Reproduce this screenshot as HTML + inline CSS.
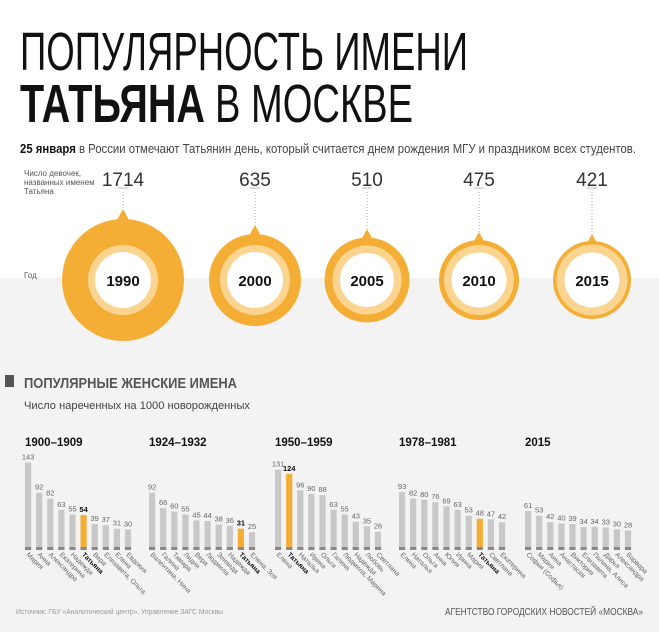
<!DOCTYPE html>
<html><head><meta charset="utf-8"><style>
html,body{margin:0;padding:0;background:#fff}
svg{display:block;font-family:"Liberation Sans",sans-serif}
</style></head><body>
<svg width="659" height="632" viewBox="0 0 659 632" xmlns="http://www.w3.org/2000/svg">
<rect x="0" y="0" width="659" height="278" fill="#fff"/>
<rect x="0" y="278" width="659" height="354" fill="#f3f3f3"/>
<text x="20" y="70" font-size="54" fill="#111" textLength="448" lengthAdjust="spacingAndGlyphs">ПОПУЛЯРНОСТЬ ИМЕНИ</text>
<text x="20" y="122" font-size="54" font-weight="bold" fill="#111" textLength="185" lengthAdjust="spacingAndGlyphs">ТАТЬЯНА</text>
<text x="215" y="122" font-size="54" fill="#111" textLength="198" lengthAdjust="spacingAndGlyphs">В МОСКВЕ</text>
<text x="20" y="153" font-size="12.5" fill="#444" textLength="616" lengthAdjust="spacingAndGlyphs"><tspan font-weight="bold" fill="#111">25 января</tspan> в России отмечают Татьянин день, который считается днем рождения МГУ и праздником всех студентов.</text>
<g font-size="8" fill="#555">
<text x="24" y="176">Число девочек,</text><text x="24" y="185">названных именем</text><text x="24" y="194">Татьяна</text>
<text x="24" y="278">Год</text>
</g>
<g font-weight="bold" font-size="15" fill="#111" text-anchor="middle">
<text x="123" y="186" font-size="19" font-weight="normal" fill="#333">1714</text>
<line x1="118" y1="188" x2="128" y2="188" stroke="#bbb"/>
<line x1="123" y1="192" x2="123" y2="212" stroke="#aaa" stroke-dasharray="1,2"/>
<path d="M117 220 L123 209 L129 220Z" fill="#f5ae35"/>
<circle cx="123" cy="280" r="61" fill="#f5ae35"/><circle cx="123" cy="280" r="35" fill="#fbd590"/><circle cx="123" cy="280" r="28" fill="#fff"/>
<text x="123" y="286">1990</text>
<text x="255" y="186" font-size="19" font-weight="normal" fill="#333">635</text>
<line x1="250" y1="188" x2="260" y2="188" stroke="#bbb"/>
<line x1="255" y1="192" x2="255" y2="226" stroke="#aaa" stroke-dasharray="1,2"/>
<path d="M249 236 L255 225 L261 236Z" fill="#f5ae35"/>
<circle cx="255" cy="280" r="46" fill="#f5ae35"/><circle cx="255" cy="280" r="35" fill="#fbd590"/><circle cx="255" cy="280" r="28" fill="#fff"/>
<text x="255" y="286">2000</text>
<text x="367" y="186" font-size="19" font-weight="normal" fill="#333">510</text>
<line x1="362" y1="188" x2="372" y2="188" stroke="#bbb"/>
<line x1="367" y1="192" x2="367" y2="230" stroke="#aaa" stroke-dasharray="1,2"/>
<path d="M361 240 L367 229 L373 240Z" fill="#f5ae35"/>
<circle cx="367" cy="280" r="42.5" fill="#f5ae35"/><circle cx="367" cy="280" r="34.5" fill="#fbd590"/><circle cx="367" cy="280" r="27" fill="#fff"/>
<text x="367" y="286">2005</text>
<text x="479" y="186" font-size="19" font-weight="normal" fill="#333">475</text>
<line x1="474" y1="188" x2="484" y2="188" stroke="#bbb"/>
<line x1="479" y1="192" x2="479" y2="232" stroke="#aaa" stroke-dasharray="1,2"/>
<path d="M473 243 L479 232 L485 243Z" fill="#f5ae35"/>
<circle cx="479" cy="280" r="40" fill="#f5ae35"/><circle cx="479" cy="280" r="35" fill="#fbd590"/><circle cx="479" cy="280" r="27.5" fill="#fff"/>
<text x="479" y="286">2010</text>
<text x="592" y="186" font-size="19" font-weight="normal" fill="#333">421</text>
<line x1="587" y1="188" x2="597" y2="188" stroke="#bbb"/>
<line x1="592" y1="192" x2="592" y2="234" stroke="#aaa" stroke-dasharray="1,2"/>
<path d="M586 245 L592 234 L598 245Z" fill="#f5ae35"/>
<circle cx="592" cy="280" r="39" fill="#f5ae35"/><circle cx="592" cy="280" r="35.5" fill="#fbd590"/><circle cx="592" cy="280" r="27.5" fill="#fff"/>
<text x="592" y="286">2015</text>
</g>
<rect x="5" y="375" width="9" height="12" fill="#555"/>
<text x="24" y="388" font-size="14.5" font-weight="bold" fill="#555" textLength="213" lengthAdjust="spacingAndGlyphs">ПОПУЛЯРНЫЕ ЖЕНСКИЕ ИМЕНА</text>
<text x="24" y="409" font-size="11" fill="#444" textLength="226" lengthAdjust="spacingAndGlyphs">Число нареченных на 1000 новорожденных</text>

<g font-size="11.5" font-weight="bold" fill="#111">
<text x="25" y="446">1900–1909</text><text x="149" y="446">1924–1932</text><text x="275" y="446">1950–1959</text><text x="399" y="446">1978–1981</text><text x="525" y="446">2015</text>
</g>

<!-- bars -->
<g fill="#c8c8c8">
<rect x="25" y="462.6" width="6.2" height="84.4"/><rect x="36.1" y="492.7" width="6.2" height="54.3"/><rect x="47.2" y="498.6" width="6.2" height="48.4"/><rect x="58.3" y="509.8" width="6.2" height="37.2"/><rect x="69.4" y="514.5" width="6.2" height="32.5"/><rect x="80.5" y="515.1" width="6.2" height="31.9" fill="#f5ae35"/><rect x="91.6" y="524" width="6.2" height="23"/><rect x="102.7" y="525.2" width="6.2" height="21.8"/><rect x="113.8" y="528.7" width="6.2" height="18.3"/><rect x="124.9" y="529.3" width="6.2" height="17.7"/>
<rect x="149" y="492.7" width="6.2" height="54.3"/><rect x="160.1" y="508.1" width="6.2" height="38.9"/><rect x="171.2" y="511.6" width="6.2" height="35.4"/><rect x="182.3" y="514.5" width="6.2" height="32.5"/><rect x="193.4" y="520.4" width="6.2" height="26.6"/><rect x="204.5" y="521" width="6.2" height="26"/><rect x="215.6" y="524.6" width="6.2" height="22.4"/><rect x="226.7" y="525.8" width="6.2" height="21.2"/><rect x="237.8" y="528.7" width="6.2" height="18.3" fill="#f5ae35"/><rect x="248.9" y="532.2" width="6.2" height="14.8"/>
<rect x="275" y="469.7" width="6.2" height="77.3"/><rect x="286.1" y="473.8" width="6.2" height="73.2" fill="#f5ae35"/><rect x="297.2" y="490.4" width="6.2" height="56.6"/><rect x="308.3" y="493.9" width="6.2" height="53.1"/><rect x="319.4" y="495.1" width="6.2" height="51.9"/><rect x="330.5" y="509.8" width="6.2" height="37.2"/><rect x="341.6" y="514.5" width="6.2" height="32.5"/><rect x="352.7" y="521.6" width="6.2" height="25.4"/><rect x="363.8" y="526.3" width="6.2" height="20.7"/><rect x="374.9" y="531.7" width="6.2" height="15.3"/>
<rect x="399" y="492.1" width="6.2" height="54.9"/><rect x="410.1" y="498.6" width="6.2" height="48.4"/><rect x="421.2" y="499.8" width="6.2" height="47.2"/><rect x="432.3" y="502.2" width="6.2" height="44.8"/><rect x="443.4" y="506.3" width="6.2" height="40.7"/><rect x="454.5" y="509.8" width="6.2" height="37.2"/><rect x="465.6" y="515.7" width="6.2" height="31.3"/><rect x="476.7" y="518.7" width="6.2" height="28.3" fill="#f5ae35"/><rect x="487.8" y="519.3" width="6.2" height="27.7"/><rect x="498.9" y="522.2" width="6.2" height="24.8"/>
<rect x="525" y="511" width="6.2" height="36"/><rect x="536.1" y="515.7" width="6.2" height="31.3"/><rect x="547.2" y="522.2" width="6.2" height="24.8"/><rect x="558.3" y="523.4" width="6.2" height="23.6"/><rect x="569.4" y="524" width="6.2" height="23"/><rect x="580.5" y="526.9" width="6.2" height="20.1"/><rect x="591.6" y="526.9" width="6.2" height="20.1"/><rect x="602.7" y="527.5" width="6.2" height="19.5"/><rect x="613.8" y="529.3" width="6.2" height="17.7"/><rect x="624.9" y="530.5" width="6.2" height="16.5"/>
</g>
<!-- baseline bands -->
<g stroke="#888" stroke-width="3" stroke-dasharray="6.2,4.9">
<line x1="25" y1="548.5" x2="131.1" y2="548.5"/><line x1="149" y1="548.5" x2="255.1" y2="548.5"/><line x1="275" y1="548.5" x2="381.1" y2="548.5"/><line x1="399" y1="548.5" x2="505.1" y2="548.5"/><line x1="525" y1="548.5" x2="631.1" y2="548.5"/>
</g>
<!-- values -->
<g font-size="7.5" fill="#666" text-anchor="middle">
<text x="28.1" y="459.6">143</text><text x="39.2" y="489.7">92</text><text x="50.3" y="495.6">82</text><text x="61.4" y="506.8">63</text><text x="72.5" y="511.5">55</text><text x="83.6" y="512.1" font-weight="bold" fill="#111">54</text><text x="94.7" y="521">39</text><text x="105.8" y="522.2">37</text><text x="116.9" y="525.7">31</text><text x="128" y="526.3">30</text>
<text x="152.1" y="489.7">92</text><text x="163.2" y="505.1">66</text><text x="174.3" y="508.6">60</text><text x="185.4" y="511.5">55</text><text x="196.5" y="517.4">45</text><text x="207.6" y="518">44</text><text x="218.7" y="521.6">38</text><text x="229.8" y="522.8">36</text><text x="240.9" y="525.7" font-weight="bold" fill="#111">31</text><text x="252" y="529.2">25</text>
<text x="278.1" y="466.7">131</text><text x="289.2" y="470.8" font-weight="bold" fill="#111">124</text><text x="300.3" y="487.4">96</text><text x="311.4" y="490.9">90</text><text x="322.5" y="492.1">88</text><text x="333.6" y="506.8">63</text><text x="344.7" y="511.5">55</text><text x="355.8" y="518.6">43</text><text x="366.9" y="523.3">35</text><text x="378" y="528.7">26</text>
<text x="402.1" y="489.1">93</text><text x="413.2" y="495.6">82</text><text x="424.3" y="496.8">80</text><text x="435.4" y="499.2">76</text><text x="446.5" y="503.3">69</text><text x="457.6" y="506.8">63</text><text x="468.7" y="512.7">53</text><text x="479.8" y="515.7">48</text><text x="490.9" y="516.3">47</text><text x="502" y="519.2">42</text>
<text x="528.1" y="508">61</text><text x="539.2" y="512.7">53</text><text x="550.3" y="519.2">42</text><text x="561.4" y="520.4">40</text><text x="572.5" y="521">39</text><text x="583.6" y="523.9">34</text><text x="594.7" y="523.9">34</text><text x="605.8" y="524.5">33</text><text x="616.9" y="526.3">30</text><text x="628" y="527.5">28</text>
</g>
<!-- name labels -->
<g font-size="6.8" fill="#666">
<text transform="translate(26,555) rotate(45)">Мария</text><text transform="translate(37.1,555) rotate(45)">Анна</text><text transform="translate(48.2,555) rotate(45)">Александра</text><text transform="translate(59.3,555) rotate(45)">Екатерина</text><text transform="translate(70.4,555) rotate(45)">Надежда</text><text transform="translate(81.5,555) rotate(45)" font-weight="bold" fill="#111">Татьяна</text><text transform="translate(92.6,555) rotate(45)">Вера</text><text transform="translate(103.7,555) rotate(45)">Елизавета, Ольга</text><text transform="translate(114.8,555) rotate(45)">Елена</text><text transform="translate(125.9,555) rotate(45)">Евдокия</text>
<text transform="translate(150,555) rotate(45)">Валентина, Нина</text><text transform="translate(161.1,555) rotate(45)">Галина</text><text transform="translate(172.2,555) rotate(45)">Тамара</text><text transform="translate(183.3,555) rotate(45)">Лидия</text><text transform="translate(194.4,555) rotate(45)">Вера</text><text transform="translate(205.5,555) rotate(45)">Людмила</text><text transform="translate(216.6,555) rotate(45)">Зинаида</text><text transform="translate(227.7,555) rotate(45)">Надежда</text><text transform="translate(238.8,555) rotate(45)" font-weight="bold" fill="#111">Татьяна</text><text transform="translate(249.9,555) rotate(45)">Елена, Зоя</text>
<text transform="translate(276,555) rotate(45)">Елена</text><text transform="translate(287.1,555) rotate(45)" font-weight="bold" fill="#111">Татьяна</text><text transform="translate(298.2,555) rotate(45)">Наталья</text><text transform="translate(309.3,555) rotate(45)">Ирина</text><text transform="translate(320.4,555) rotate(45)">Ольга</text><text transform="translate(331.5,555) rotate(45)">Галина</text><text transform="translate(342.6,555) rotate(45)">Людмила, Марина</text><text transform="translate(353.7,555) rotate(45)">Надежда</text><text transform="translate(364.8,555) rotate(45)">Любовь</text><text transform="translate(375.9,555) rotate(45)">Светлана</text>
<text transform="translate(400,555) rotate(45)">Елена</text><text transform="translate(411.1,555) rotate(45)">Наталья</text><text transform="translate(422.2,555) rotate(45)">Ольга</text><text transform="translate(433.3,555) rotate(45)">Анна</text><text transform="translate(444.4,555) rotate(45)">Юлия</text><text transform="translate(455.5,555) rotate(45)">Ирина</text><text transform="translate(466.6,555) rotate(45)">Мария</text><text transform="translate(477.7,555) rotate(45)" font-weight="bold" fill="#111">Татьяна</text><text transform="translate(488.8,555) rotate(45)">Светлана</text><text transform="translate(499.9,555) rotate(45)">Екатерина</text>
<text transform="translate(526,555) rotate(45)">София (Софья)</text><text transform="translate(537.1,555) rotate(45)">Мария</text><text transform="translate(548.2,555) rotate(45)">Анна</text><text transform="translate(559.3,555) rotate(45)">Анастасия</text><text transform="translate(570.4,555) rotate(45)">Виктория</text><text transform="translate(581.5,555) rotate(45)">Елизавета</text><text transform="translate(592.6,555) rotate(45)">Полина, Алиса</text><text transform="translate(603.7,555) rotate(45)">Дарья</text><text transform="translate(614.8,555) rotate(45)">Александра</text><text transform="translate(625.9,555) rotate(45)">Варвара</text>
</g>

<text x="16" y="614" font-size="7" fill="#999" textLength="207" lengthAdjust="spacingAndGlyphs">Источник: ГБУ «Аналитический центр», Управление ЗАГС Москвы</text>
<text x="445" y="615" font-size="10.5" fill="#555" textLength="198" lengthAdjust="spacingAndGlyphs">АГЕНТСТВО ГОРОДСКИХ НОВОСТЕЙ «МОСКВА»</text>
</svg>
</body></html>
